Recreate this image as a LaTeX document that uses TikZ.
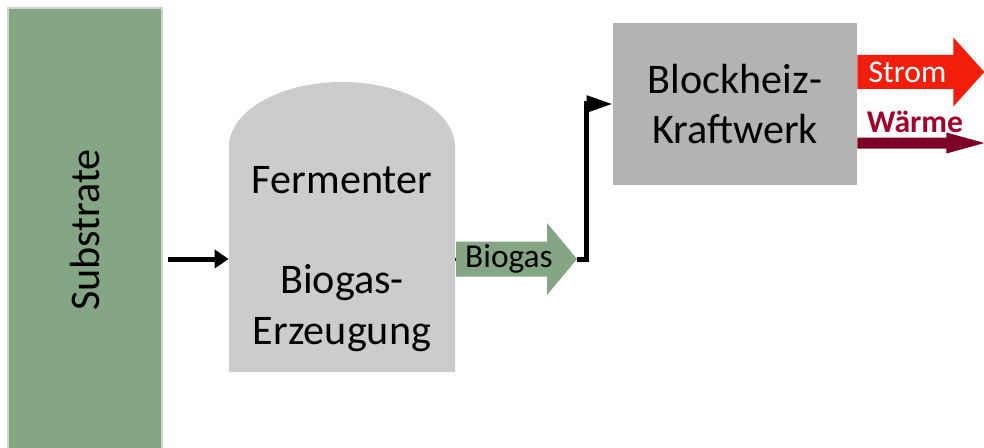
\documentclass[tikz,border=0pt]{standalone}
\usepackage{fontspec}
\setmainfont{Carlito}
\usetikzlibrary{calc,arrows.meta}
\definecolor{substratgruen}{HTML}{85A684}
\definecolor{rahmengrau}{HTML}{D2D2D2}
\definecolor{bhkwgrau}{HTML}{B3B3B3}
\definecolor{stromrot}{HTML}{F21E0C}
\definecolor{waermerot}{HTML}{A3002D}
\definecolor{waermepfeil}{HTML}{7D0026}
\def\blockpfeil[#1](#2)(#3:#4:#5:#6){\fill[#1] ($(#2)+(0,{#4/2})$) -- ++({#3-#6},0) -- ++(0,{(#5-#4)/2}) -- ($(#2)+(#3,0)$) -- ($(#2)+({#3-#6},{-#5/2})$) -- ++(0,{(#5-#4)/2}) -- ($(#2)+(0,{-#4/2})$) -- cycle;}

\begin{document}
\begin{tikzpicture}[
		gross/.style={font=\fontsize{24}{28.5}\selectfont, align=center},
		klein/.style={font=\fontsize{18}{21}\selectfont},
		fluss/.style={line width=0.1cm, color=black}]
		%%%%% START %%%%%
		\useasboundingbox (0, 0) rectangle (19.68, 8.94);
		
		\node[gross, rotate=90, fill=substratgruen, draw=rahmengrau, line width=0.8pt, minimum width=8.88cm, minimum height=3.08cm] (substrate) at (1.7, 4.34) {Substrate};
		
		% Fermenter
		\shade[left color=black!20, middle color=black!30, right color=black!20] (4.58, 1.5) -- (4.58, 6.0) arc[start angle=180, end angle=0, x radius=2.26cm, y radius=1.3cm] -- (9.1, 1.5) -- cycle;
		\node[gross, minimum width=4.52cm, minimum height=4.5cm] (fermenter) at (6.84, 3.76) {Fermenter\\[28.5pt]Biogas-\\Erzeugung};
		
		\draw[fluss, -{Triangle[length=0.28cm, width=0.36cm]}] ([xshift=0.1cm]substrate.south |- fermenter.west) -- (fermenter.west);
		
		% Biogas
		\coordinate (bgstart) at (9.12, 3.76);
		\coordinate (bgspitze) at (11.54, 3.76);
		\blockpfeil[substratgruen](bgstart)(2.42:0.7:1.44:0.6)
		\node[klein, font=\fontsize{19}{22}\selectfont] (biogas) at (10.18, 3.76) {Biogas};
		\draw[line width=0.06cm] (fermenter.east) -- (bgstart);
		
		\node[gross, fill=bhkwgrau, minimum width=4.88cm, minimum height=3.24cm] (bhkw) at (14.7, 6.86) {Blockheiz-\\Kraftwerk};
		\draw[fluss, -{Triangle[length=0.52cm, width=0.32cm]}] (bgspitze) -- (11.72, 3.76) |- (bhkw.west);
		
		% Strom und Waerme
		\coordinate (stromstart) at (bhkw.east |- 0, 7.5);
		\coordinate (waermestart) at (bhkw.east |- 0, 6.08);
		\blockpfeil[stromrot](stromstart)(2.54:0.68:1.38:0.62)
		\node[klein, text=white] (strom) at (18.15, 7.5) {Strom};
		\node[klein, text=waermerot, font=\fontsize{18}{21}\selectfont\bfseries] (waerme) at (18.3, 6.5) {Wärme};
		\blockpfeil[waermepfeil](waermestart)(2.54:0.22:0.42:0.76)
		%%%%% END %%%%%
\end{tikzpicture}
\end{document}
